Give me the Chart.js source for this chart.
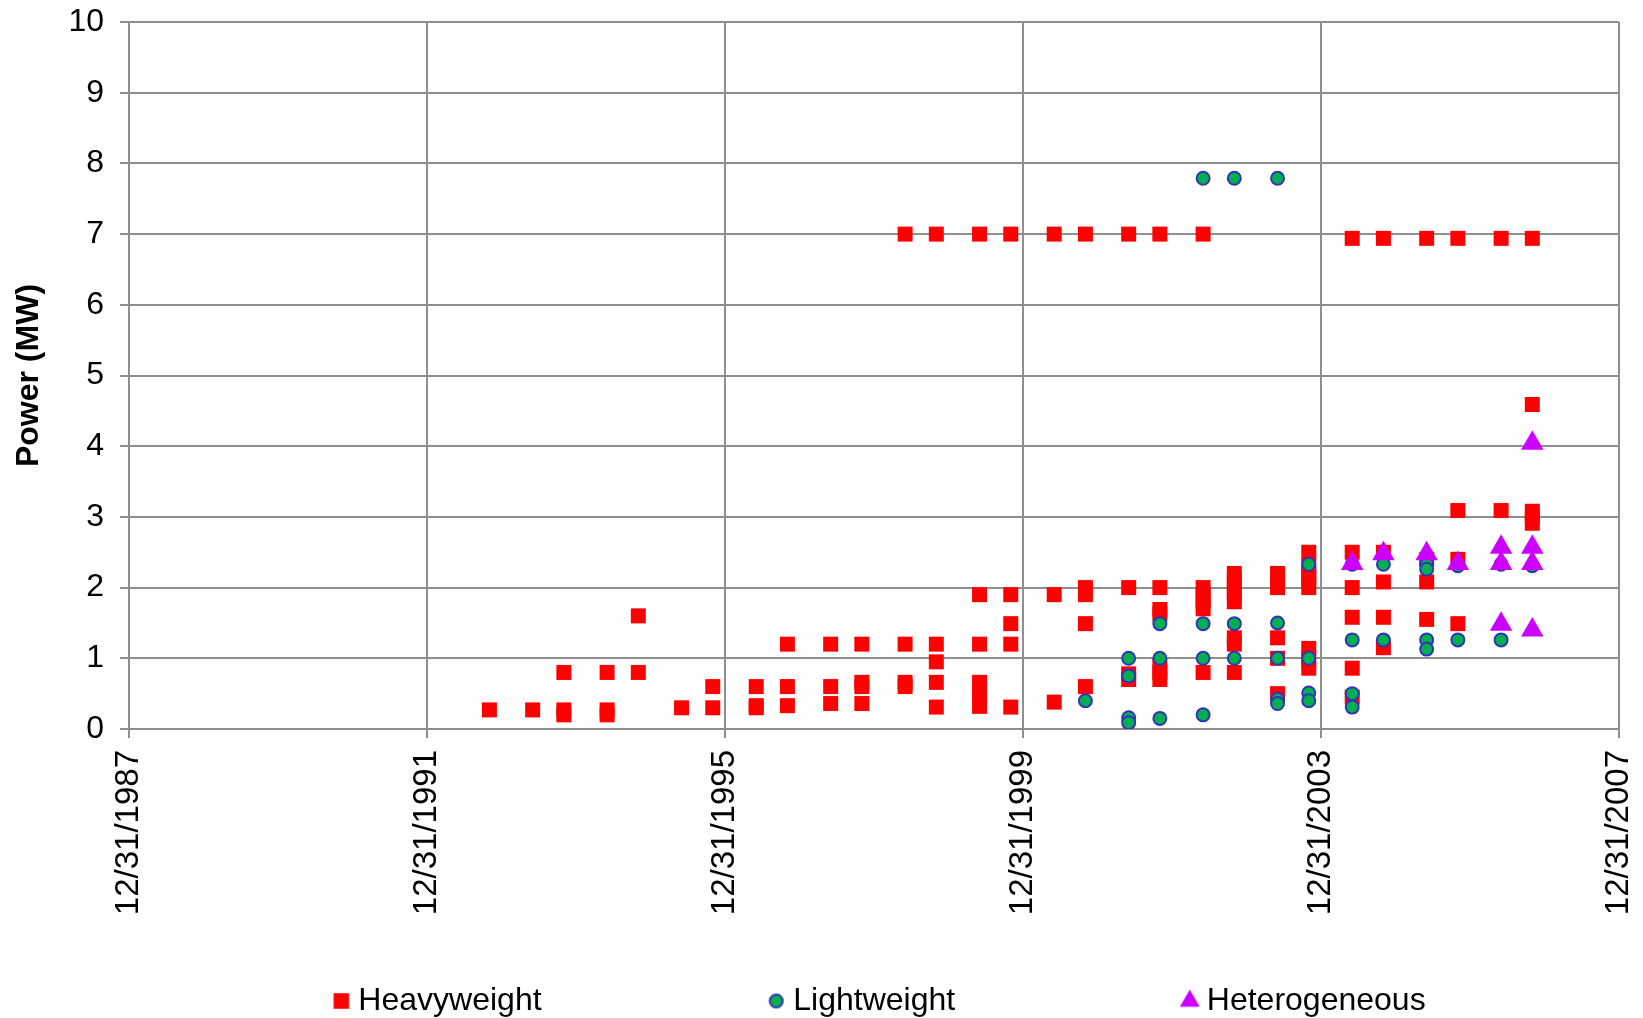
<!DOCTYPE html>
<html>
<head>
<meta charset="utf-8">
<script src="https://cdn.jsdelivr.net/npm/chart.js@4/dist/chart.umd.min.js"></script>
<style>
  html, body { margin: 0; padding: 0; background: #ffffff; }
  #wrap { width: 1643px; height: 1018px; }
</style>
</head>
<body>
<div id="wrap"><canvas id="chart" width="1643" height="1018"></canvas></div>
<script>
// ---- data: list release (year-month) and power (MW) of each system ----
const heavyReleases = ['1992-11','1993-06','1993-11','1994-06','1994-11','1995-06','1995-11',
  '1996-06','1996-11','1997-06','1997-11','1998-06','1998-11','1999-06','1999-11','2000-06',
  '2000-11','2001-06','2001-11','2002-06','2002-11','2003-06','2003-11','2004-06','2004-11',
  '2005-06','2005-11','2006-06','2006-11'];
const heavyPower = [
  [0.27], [0.27], [0.80, 0.27, 0.20], [0.80, 0.27, 0.20], [1.60, 0.80], [0.30], [0.60, 0.30],
  [0.60, 0.33, 0.30], [1.20, 0.60, 0.33], [1.20, 0.60, 0.36], [1.20, 0.66, 0.60, 0.36],
  [7.00, 1.20, 0.66, 0.60], [7.00, 1.20, 0.95, 0.66, 0.31],
  [7.00, 1.90, 1.20, 0.66, 0.55, 0.45, 0.32], [7.00, 1.90, 1.49, 1.20, 0.31], [7.00, 1.90, 0.38],
  [7.00, 2.00, 1.90, 1.49, 0.60], [7.00, 2.00, 0.78, 0.70],
  [7.00, 2.00, 1.69, 1.63, 0.89, 0.80, 0.70], [7.00, 2.00, 1.89, 1.80, 1.70, 0.80],
  [2.20, 2.10, 2.00, 1.90, 1.80, 1.29, 1.20, 0.80], [2.20, 2.10, 2.00, 1.29, 1.00, 0.50],
  [2.50, 2.30, 2.20, 2.10, 2.00, 1.14, 1.00, 0.86], [6.94, 2.50, 2.00, 1.58, 0.86, 0.45],
  [6.94, 2.50, 2.08, 1.58, 1.15], [6.94, 2.40, 2.08, 1.55], [6.94, 3.09, 2.40, 1.49],
  [6.94, 3.09], [6.94, 4.59, 3.08, 3.00, 2.91]
];

const lightReleases = ['2000-11','2001-06','2001-11','2002-06','2002-11','2003-06','2003-11',
  '2004-06','2004-11','2005-06','2005-11','2006-06','2006-11'];
const lightPower = [
  [0.40], [1.00, 0.75, 0.16, 0.09], [1.49, 1.00, 0.15], [7.79, 1.49, 1.00, 0.20],
  [7.79, 1.49, 1.00], [7.79, 1.50, 1.00, 0.42, 0.36], [2.33, 1.00, 0.51, 0.40],
  [2.33, 1.26, 0.50, 0.31], [2.33, 1.26], [2.33, 2.26, 1.26, 1.13], [2.31, 1.26],
  [2.33, 1.26], [2.31]
];

const heteroReleases = ['2004-06','2004-11','2005-06','2005-11','2006-06','2006-11'];
const heteroPower = [[2.34], [2.48], [2.48], [2.34], [2.57, 2.34, 1.48], [4.04, 2.57, 2.34, 1.40]];

const seriesNames = ['Heavyweight', 'Lightweight', 'Heterogeneous'];
const xTickDates = ['1987-12-31', '1991-12-31', '1995-12-31', '1999-12-31', '2003-12-31', '2007-12-31'];
const yTickMax = 10;

// ---- helpers ----
const DAY_MS = 86400000;
function toDay(str) {
  const p = str.split('-').map(Number);
  return Date.UTC(p[0], p[1] - 1, p[2] || 1) / DAY_MS;
}
function formatDay(day) {
  const d = new Date(Math.round(day) * DAY_MS);
  return (d.getUTCMonth() + 1) + '/' + d.getUTCDate() + '/' + d.getUTCFullYear();
}
function toPoints(releases, power) {
  return releases.flatMap((r, i) => power[i].map(v => ({ x: toDay(r), y: v })));
}

const FONT = "'Liberation Sans', Arial, Helvetica, sans-serif";
const GRID = '#8f8f8f';
const legendGap = '\u2003'.repeat(7) + '\u200A';

// legend symbols, drawn with Chart.js's own point renderer at per-series sizes
function legendIcon(style, radius, fill, stroke, borderWidth) {
  const size = Math.ceil(radius * 2 + borderWidth + 4);
  const c = document.createElement('canvas');
  c.width = size;
  c.height = size;
  const ctx = c.getContext('2d');
  ctx.fillStyle = fill;
  ctx.strokeStyle = stroke;
  ctx.lineWidth = borderWidth;
  Chart.helpers.drawPoint(ctx, { pointStyle: style, radius, borderWidth, rotation: 0 }, size / 2, size / 2);
  return c;
}

// shifts the legend row so its entries sit under the plot
const legendShift = {
  id: 'legendShift',
  afterLayout(chart) {
    const lg = chart.legend;
    if (lg) { lg.left += 9; lg.right += 9; }
  }
};

const datasets = [
  {
    label: seriesNames[0],
    data: toPoints(heavyReleases, heavyPower),
    pointStyle: 'rect',
    pointRadius: 10.6,
    backgroundColor: '#ff0000',
    borderColor: '#ff0000',
    borderWidth: 0,
    order: 3
  },
  {
    label: seriesNames[1],
    data: toPoints(lightReleases, lightPower),
    pointStyle: 'circle',
    pointRadius: 6.5,
    backgroundColor: '#00b050',
    borderColor: '#3434b8',
    borderWidth: 2,
    order: 2
  },
  {
    label: seriesNames[2],
    data: toPoints(heteroReleases, heteroPower),
    pointStyle: 'triangle',
    pointRadius: 13,
    backgroundColor: '#cc00ff',
    borderColor: '#cc00ff',
    borderWidth: 0,
    order: 1
  }
];

const legendRadius = [11, 6.5, 11.5];
const legendIcons = datasets.map((ds, i) =>
  legendIcon(ds.pointStyle, legendRadius[i], ds.backgroundColor, ds.borderColor, ds.borderWidth));

new Chart(document.getElementById('chart'), {
  type: 'scatter',
  data: { datasets },
  options: {
    responsive: false,
    animation: false,
    devicePixelRatio: 1,
    layout: { padding: { top: 22, right: 24, bottom: 0, left: 0 } },
    scales: {
      x: {
        type: 'linear',
        min: toDay(xTickDates[0]),
        max: toDay(xTickDates[xTickDates.length - 1]),
        afterBuildTicks(scale) {
          scale.ticks = xTickDates.map(s => ({ value: toDay(s) }));
        },
        afterFit(scale) {
          scale.height = 249;
          scale.paddingLeft = 0;
          scale.paddingRight = 0;
        },
        grid: { color: GRID, lineWidth: 2, tickLength: 9, tickColor: GRID },
        border: { color: GRID, width: 2 },
        ticks: {
          autoSkip: false,
          minRotation: 90,
          maxRotation: 90,
          padding: 12,
          color: '#000000',
          font: { family: FONT, size: 33 },
          callback: v => formatDay(v)
        }
      },
      y: {
        min: 0,
        max: yTickMax,
        afterFit(scale) {
          scale.width = 129;
          scale.paddingTop = 0;
          scale.paddingBottom = 0;
        },
        grid: { color: GRID, lineWidth: 2, tickLength: 9, tickColor: GRID },
        border: { color: GRID, width: 2 },
        ticks: {
          stepSize: 1,
          padding: 16,
          color: '#000000',
          font: { family: FONT, size: 32 }
        },
        title: {
          display: true,
          text: 'Power (MW)',
          color: '#000000',
          padding: { top: 10, bottom: 0 },
          font: { family: FONT, size: 32, weight: 'bold' }
        }
      }
    },
    plugins: {
      tooltip: { enabled: false },
      legend: {
        position: 'bottom',
        fullSize: false,
        maxHeight: 40,
        labels: {
          usePointStyle: true,
          boxWidth: 2,
          boxHeight: 14.5,
          padding: 7,
          color: '#000000',
          font: { family: FONT, size: 32 },
          sort: (a, b) => a.datasetIndex - b.datasetIndex,
          generateLabels(chart) {
            const items = Chart.defaults.plugins.legend.labels.generateLabels(chart);
            items.forEach(it => {
              it.pointStyle = legendIcons[it.datasetIndex];
              if (it.datasetIndex < seriesNames.length - 1) it.text += legendGap;
            });
            return items;
          }
        }
      }
    }
  },
  plugins: [legendShift]
});
</script>
</body>
</html>
